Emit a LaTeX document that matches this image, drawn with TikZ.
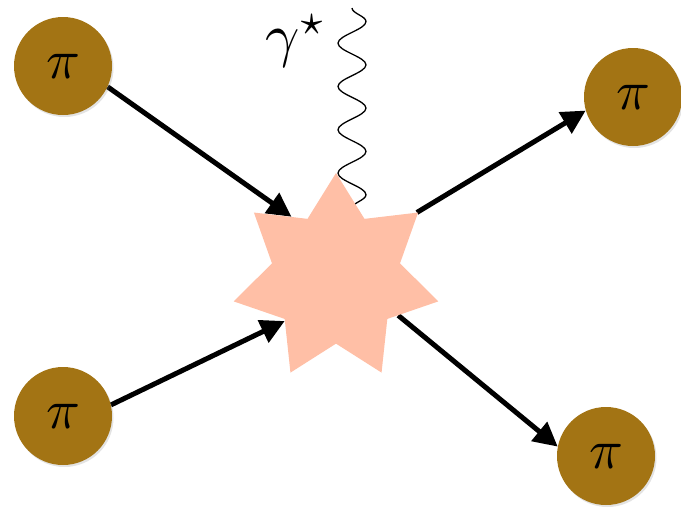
\documentclass[tikz,border=0pt]{standalone}
\usepackage{graphicx}
\usetikzlibrary{shapes.geometric,arrows.meta,decorations.pathmorphing,backgrounds,shadows}
\definecolor{pioncol}{RGB}{163,116,20}
\definecolor{starcol}{RGB}{255,191,166}
\newcommand{\bigsym}[2]{\scalebox{#1}{$#2$}}
\tikzset{
  pion/.style={circle,fill=pioncol,minimum size=98pt,inner sep=0pt,
    drop shadow={opacity=0.22,shadow xshift=1.5pt,shadow yshift=-2pt}},
  blob/.style={star,star points=7,star point ratio=1.6,minimum size=210pt,inner sep=0pt,fill=starcol,draw=none},
  leg/.style={line width=5pt,-{Triangle[length=24pt,width=24pt]}},
  photon/.style={line width=1.3pt,decorate,decoration={snake,segment length=43.3pt,amplitude=14pt}}
}
\begin{document}
\begin{tikzpicture}[x=1pt,y=-1pt]
\useasboundingbox (0,0) rectangle (681,507);
\node[blob] (blob) at (336,278) {};
\node[pion] (p1) at (63,66) {\bigsym{5.6}{\pi}};
\node[pion] (p2) at (63,416) {\bigsym{5.6}{\pi}};
\node[pion] (p3) at (633,97) {\bigsym{5.6}{\pi}};
\node[pion] (p4) at (606,456) {\bigsym{5.6}{\pi}};
\coordinate (gtop) at (352,8);
\coordinate (gbot) at (352,212);
\node[inner sep=0pt] (glabel) at (296,41) {\bigsym{6}{\gamma^{\star}}};
\begin{scope}[on background layer]
\draw[photon] (gtop) -- (gbot);
\draw[leg] (p1.-25) -- (blob.126);
\draw[leg] (p2.13) -- (blob.220);
\draw[leg] (blob.39) -- (p3.196);
\draw[leg] (blob.-31) -- (p4.169);
\end{scope}
\end{tikzpicture}
\end{document}
